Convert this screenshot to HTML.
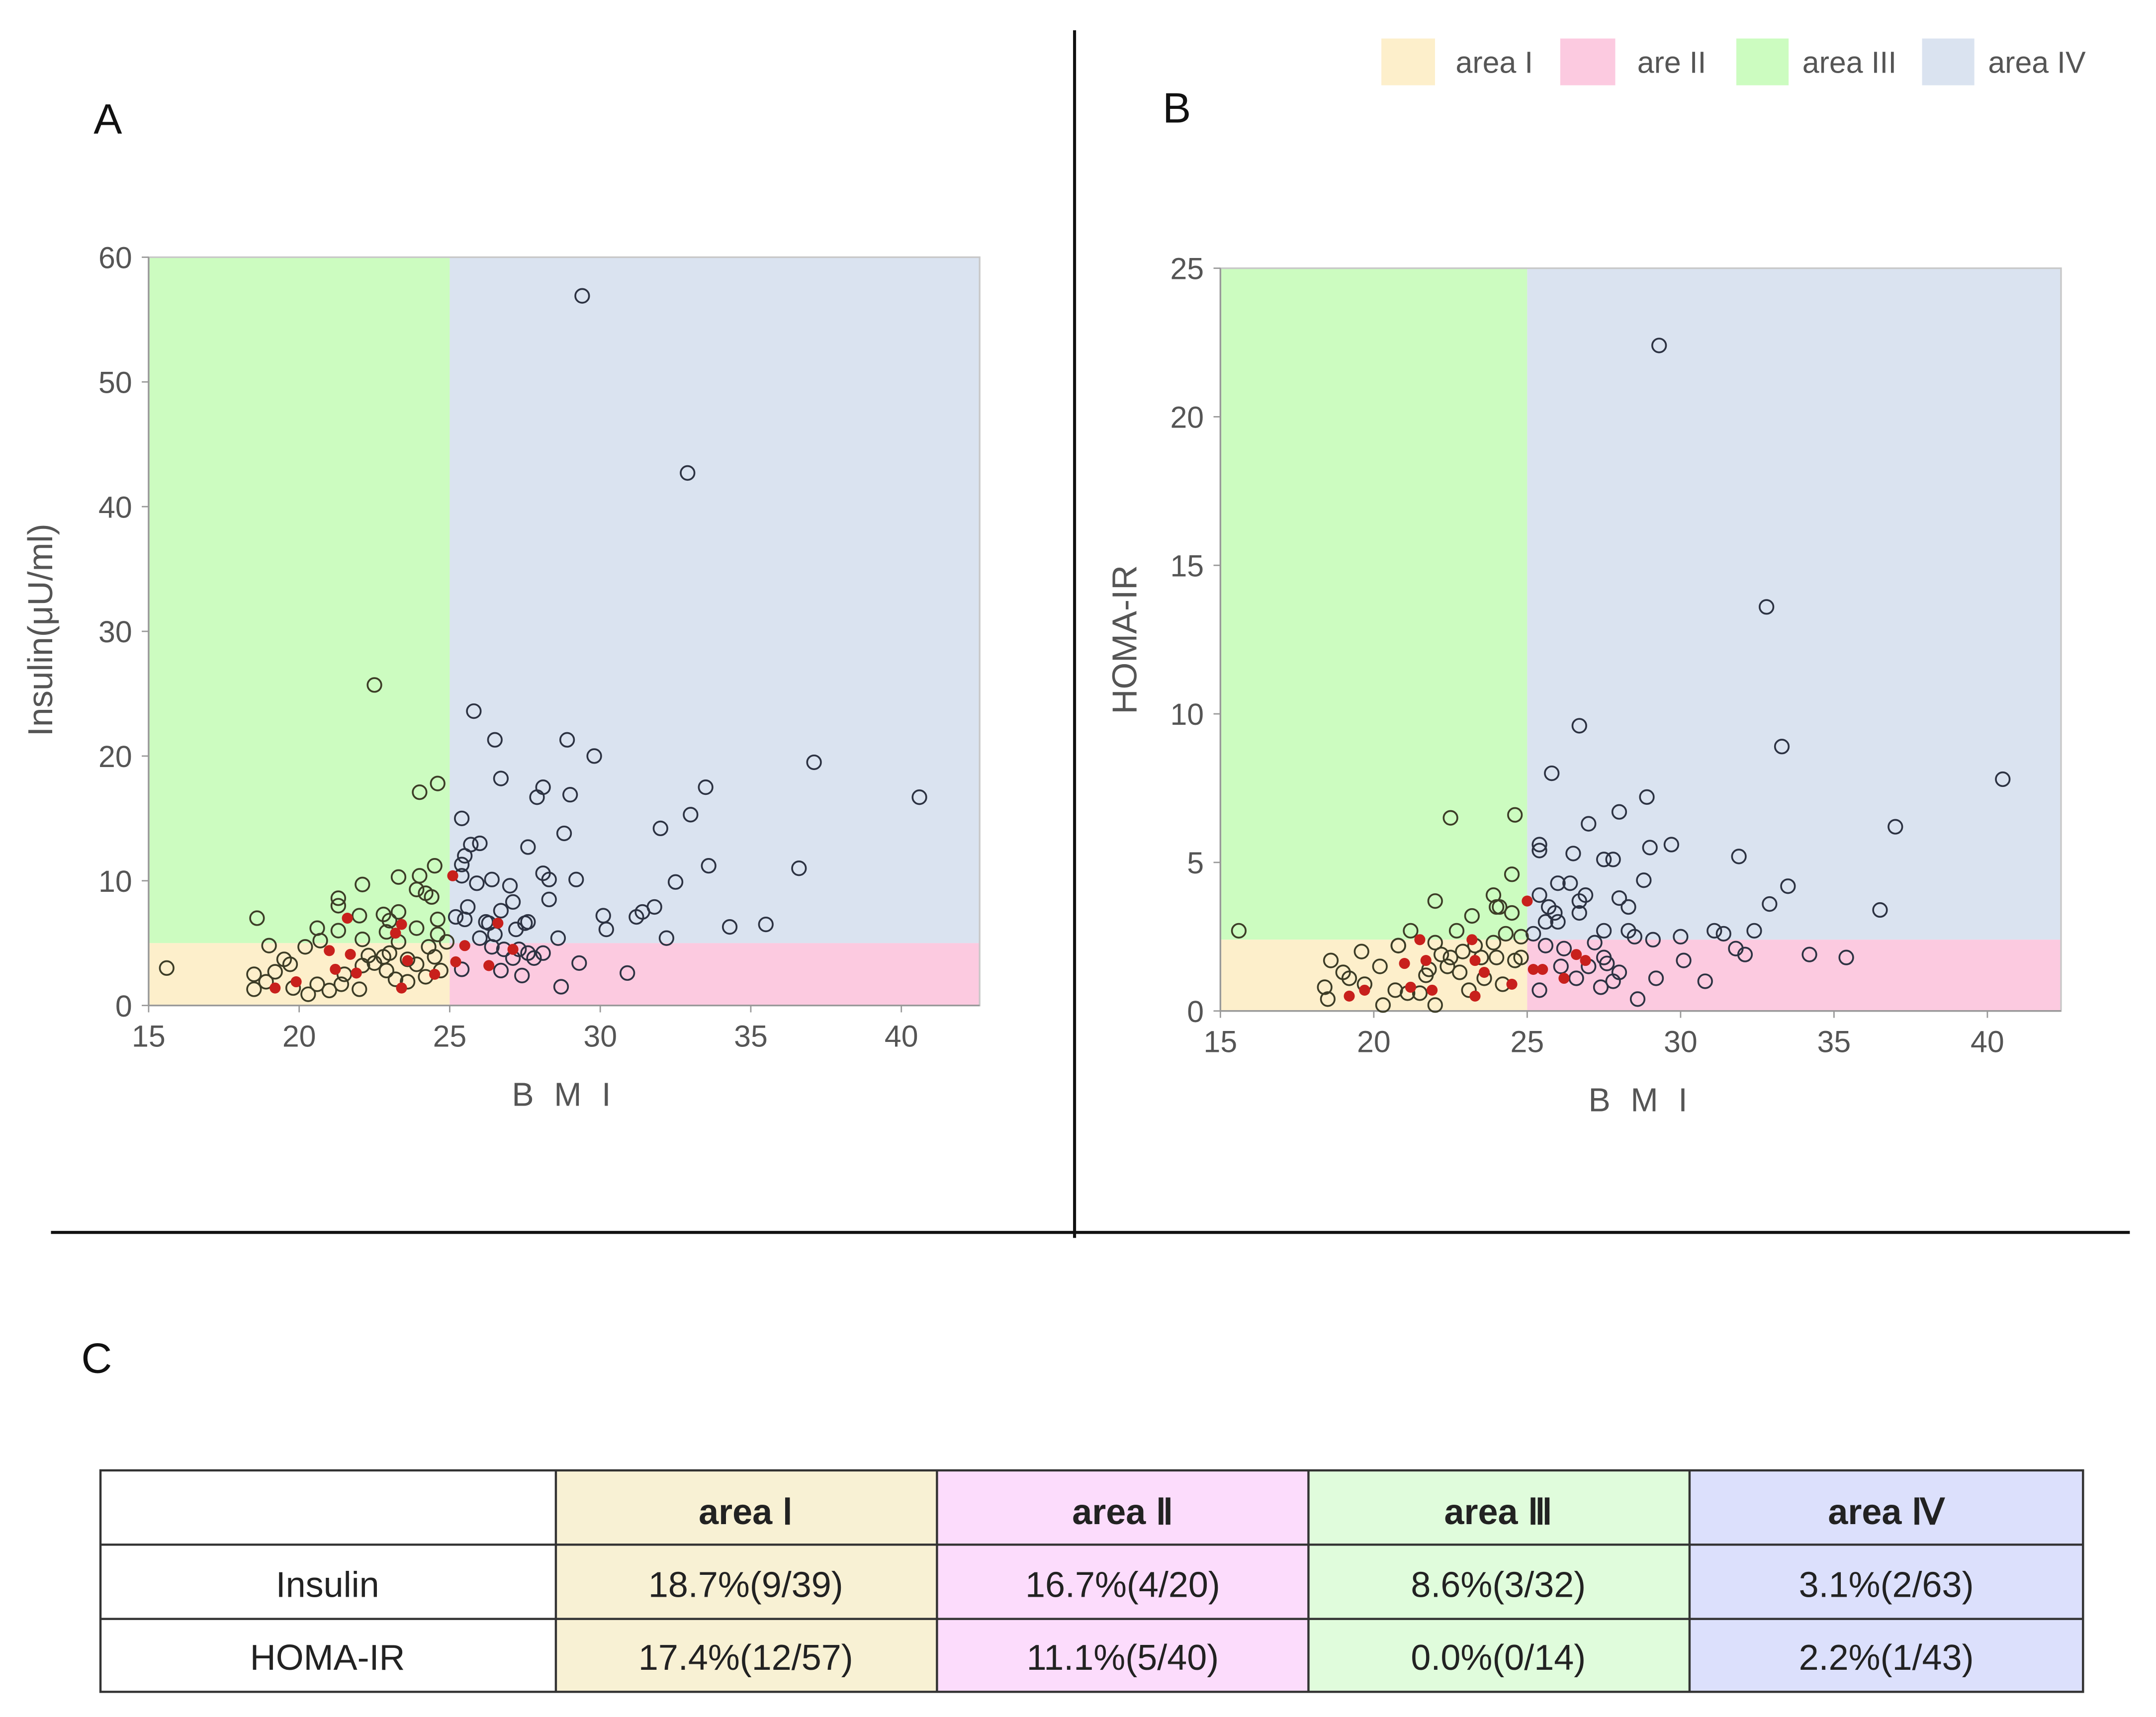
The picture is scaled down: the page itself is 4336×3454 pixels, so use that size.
<!DOCTYPE html>
<html><head><meta charset="utf-8"><style>
html,body{margin:0;padding:0;background:#fff;}
svg{display:block;font-family:"Liberation Sans",sans-serif;}
</style></head><body>
<svg id="fig" width="4336" height="3454" viewBox="0 0 1567 1248.3" xmlns="http://www.w3.org/2000/svg">
<rect x="0" y="0" width="1567" height="1249" fill="#fff"/>
<line x1="781" y1="22" x2="781" y2="900" stroke="#111" stroke-width="2.2"/>
<line x1="37" y1="896" x2="1548" y2="896" stroke="#111" stroke-width="2.2"/>
<text x="68" y="97" font-size="31" fill="#111">A</text>
<text x="845" y="89" font-size="31" fill="#111">B</text>
<text x="59" y="998" font-size="31" fill="#111">C</text>
<g font-size="22" fill="#555">
<rect x="1004" y="28" width="39" height="34" fill="#fdefcb"/>
<text x="1058" y="53">area I</text>
<rect x="1134" y="28" width="40" height="34" fill="#fccae0"/>
<text x="1190" y="53">are II</text>
<rect x="1262" y="28" width="38" height="34" fill="#ccfcc0"/>
<text x="1310" y="53">area III</text>
<rect x="1397" y="28" width="38" height="34" fill="#dae3f0"/>
<text x="1445" y="53">area IV</text>
</g>
<g id="chartA"></g>
<g id="chartB"></g>
<g font-size="26" fill="#222" text-anchor="middle">
<rect x="404" y="1069" width="277" height="161" fill="#f8f1d4"/>
<rect x="681" y="1069" width="270" height="161" fill="#fcdcfc"/>
<rect x="951" y="1069" width="277" height="161" fill="#e0fcdc"/>
<rect x="1228" y="1069" width="286" height="161" fill="#dce0fc"/>
<g stroke="#333" stroke-width="1.6" fill="none">
<rect x="73" y="1069" width="1441" height="161"/>
<line x1="73" y1="1123" x2="1514" y2="1123"/><line x1="73" y1="1177" x2="1514" y2="1177"/>
<line x1="404" y1="1069" x2="404" y2="1230"/><line x1="681" y1="1069" x2="681" y2="1230"/>
<line x1="951" y1="1069" x2="951" y2="1230"/><line x1="1228" y1="1069" x2="1228" y2="1230"/>
</g>
<g font-weight="bold">
<text x="542" y="1108">area Ⅰ</text>
<text x="816" y="1108">area Ⅱ</text>
<text x="1089" y="1108">area Ⅲ</text>
<text x="1371" y="1108">area Ⅳ</text>
</g>
<text x="238" y="1161">Insulin</text>
<text x="542" y="1161">18.7%(9/39)</text>
<text x="816" y="1161">16.7%(4/20)</text>
<text x="1089" y="1161">8.6%(3/32)</text>
<text x="1371" y="1161">3.1%(2/63)</text>
<text x="238" y="1214">HOMA-IR</text>
<text x="542" y="1214">17.4%(12/57)</text>
<text x="816" y="1214">11.1%(5/40)</text>
<text x="1089" y="1214">0.0%(0/14)</text>
<text x="1371" y="1214">2.2%(1/43)</text>
</g>
</svg>
<script>
// Panel A data: BMI vs insulin
const bmiA=[29.4,32.9,25.8,26.5,28.9,29.8,37.1,26.7,28.1,27.9,29.0,33.5,40.6,33.0,25.4,32.0,28.8,25.7,26.0,27.6,25.5,25.4,33.6,36.6,28.1,28.3,29.2,26.4,32.5,25.9,27.0,25.4,27.1,28.3,25.6,31.8,31.4,31.2,26.7,30.1,30.2,34.3,35.5,25.2,25.5,26.2,26.3,27.5,27.6,27.2,26.5,26.0,32.2,28.6,26.4,26.8,27.3,27.6,28.1,27.8,29.3,25.4,26.7,27.4,30.9,28.7,27.1,
22.5,24.0,24.6,24.5,23.3,24.0,22.1,23.9,24.2,24.4,21.3,21.3,18.6,22.0,22.8,23.3,23.0,23.9,24.6,20.6,21.3,22.1,22.9,24.6,24.9,19.0,20.2,20.7,23.3,
15.6,18.5,18.5,19.2,19.5,19.7,18.9,19.8,20.3,20.6,21.0,21.4,21.5,22.0,22.1,22.3,22.5,22.8,22.9,23.2,23.6,23.9,24.2,24.5,24.3,24.7,23.6,23.0];
const insA=[56.9,42.7,23.6,21.3,21.3,20.0,19.5,18.2,17.5,16.7,16.9,17.5,16.7,15.3,15.0,14.2,13.8,12.9,13.0,12.7,12.0,11.3,11.2,11.0,10.6,10.1,10.1,10.1,9.9,9.8,9.6,10.4,8.3,8.5,7.9,7.9,7.5,7.1,7.6,7.2,6.1,6.3,6.5,7.1,6.9,6.7,6.6,6.6,6.7,6.1,5.7,5.4,5.4,5.4,4.7,4.5,4.5,4.2,4.2,3.8,3.4,2.9,2.8,2.4,2.6,1.5,3.8,
25.7,17.1,17.8,11.2,10.3,10.4,9.7,9.3,9.0,8.7,8.6,8.0,7.0,7.2,7.3,7.5,6.8,6.2,6.9,6.2,6.0,5.3,5.9,5.7,5.1,4.8,4.7,5.2,5.1,
3.0,2.5,1.3,2.7,3.7,3.3,1.9,1.4,0.9,1.7,1.2,1.7,2.5,1.3,3.2,4.0,3.4,3.9,2.8,2.1,3.7,3.3,2.3,3.9,4.7,2.8,1.9,4.2];
const redBmiA=[25.1,25.5,25.2,26.3,27.1,26.6,21.6,23.4,23.2,19.2,19.9,21.0,21.7,21.2,21.9,23.4,23.6,24.5];
const redInsA=[10.4,4.8,3.5,3.2,4.5,6.6,7.0,6.5,5.8,1.4,1.9,4.4,4.1,2.9,2.6,1.4,3.6,2.5];
// Panel B data: BMI vs HOMA-IR
const bmiB=[29.3,32.8,26.7,33.3,40.5,25.8,28.9,28.0,27.0,37.0,25.4,25.4,29.0,29.7,26.5,27.5,27.8,31.9,28.8,26.0,26.4,33.5,25.4,26.9,26.7,28.0,28.3,32.9,36.5,25.7,25.9,26.7,26.0,25.6,27.5,28.3,31.1,31.4,32.4,30.0,28.5,29.1,25.2,
31.8,32.1,34.2,35.4,30.1,29.2,30.8,28.6,25.4,25.6,26.2,26.1,26.6,27.2,27.5,27.6,28.0,27.4,27.8,27.0,
15.6,22.5,24.6,24.5,22.0,23.9,24.0,24.1,24.5,23.2,21.2,22.7,24.3,24.8,
18.6,19.6,18.4,18.5,19.0,19.2,19.7,20.2,20.3,20.8,20.8,20.7,21.1,21.5,21.7,22.0,22.0,22.2,22.4,22.5,22.8,22.9,23.1,23.3,23.5,23.6,23.9,24.0,24.2,24.6,24.8,21.8];
const homaB=[22.4,13.6,9.6,8.9,7.8,8.0,7.2,6.7,6.3,6.2,5.6,5.4,5.5,5.6,5.3,5.1,5.1,5.2,4.4,4.3,4.3,4.2,3.9,3.9,3.7,3.8,3.5,3.6,3.4,3.5,3.3,3.3,3.0,3.0,2.7,2.7,2.7,2.6,2.7,2.5,2.5,2.4,2.6,
2.1,1.9,1.9,1.8,1.7,1.1,1.0,0.4,0.7,2.2,2.1,1.5,1.1,2.3,1.8,1.6,1.3,0.8,1.0,1.5,
2.7,6.5,6.6,4.6,3.7,3.9,3.5,3.5,3.3,3.2,2.7,2.7,2.6,2.5,
1.7,2.0,0.8,0.4,1.3,1.1,0.9,1.5,0.2,2.2,2.2,0.7,0.6,0.6,1.2,2.3,0.2,1.9,1.5,1.8,1.3,2.0,0.7,2.2,1.8,1.1,2.3,1.8,0.9,1.7,1.8,1.4];
const redBmiB=[25.0,25.2,25.5,26.2,26.6,26.9,21.5,23.2,19.2,19.7,21.0,21.7,21.2,21.9,23.3,23.3,23.6,24.5];
const redHomaB=[3.7,1.4,1.4,1.1,1.9,1.7,2.4,2.4,0.5,0.7,1.6,1.7,0.8,0.7,0.5,1.7,1.3,0.9];
const xTicks=[15,20,25,30,35,40];
const yTicksA=[0,10,20,30,40,50,60];
const yTicksB=[0,5,10,15,20,25];

const NS='http://www.w3.org/2000/svg';
function mk(tag,attrs,parent){const e=document.createElementNS(NS,tag);for(const k in attrs)e.setAttribute(k,attrs[k]);parent.appendChild(e);return e;}

function drawPanel(g,cfg){
  const sx=v=>cfg.x0+(v-15)/(cfg.xmax-15)*(cfg.x1-cfg.x0);
  const sy=v=>cfg.y0-(v/cfg.ymax)*(cfg.y0-cfg.y1);
  const xc=sx(25),yc=sy(cfg.cut);
  let r;
  r=mk('rect',{x:cfg.x0,y:cfg.y1,width:xc-cfg.x0,height:yc-cfg.y1,fill:'#ccfcc0'},g);
  
  
  r=mk('rect',{x:xc,y:cfg.y1,width:cfg.x1-xc,height:yc-cfg.y1,fill:'#dae3f0'},g);
  
  
  r=mk('rect',{x:cfg.x0,y:yc,width:xc-cfg.x0,height:cfg.y0-yc,fill:'#fdefcb'},g);
  
  
  r=mk('rect',{x:xc,y:yc,width:cfg.x1-xc,height:cfg.y0-yc,fill:'#fccae0'},g);
  
  
  mk('rect',{x:cfg.x0,y:cfg.y1,width:cfg.x1-cfg.x0,height:cfg.y0-cfg.y1,fill:'none',stroke:'#c8c8c8','stroke-width':1.2},g);
  mk('line',{x1:cfg.x0,y1:cfg.y1,x2:cfg.x0,y2:cfg.y0,stroke:'#999','stroke-width':1.2},g);
  mk('line',{x1:cfg.x0,y1:cfg.y0,x2:cfg.x1,y2:cfg.y0,stroke:'#999','stroke-width':1.2},g);
  xTicks.forEach(t=>{
    const x=sx(t);
    mk('line',{x1:x,y1:cfg.y0,x2:x,y2:cfg.y0+5,stroke:'#999'},g);
    const tx=mk('text',{x:x,y:cfg.y0+30,'font-size':22,fill:'#555','text-anchor':'middle'},g);
    tx.textContent=t;
    
    
  });
  cfg.yTicks.forEach(t=>{
    const y=sy(t);
    mk('line',{x1:cfg.x0-5,y1:y,x2:cfg.x0,y2:y,stroke:'#999'},g);
    const tx=mk('text',{x:cfg.x0-12,y:y+8,'font-size':22,fill:'#555','text-anchor':'end'},g);
    tx.textContent=t;
    
    
  });
  const xt=mk('text',{x:(cfg.x0+cfg.x1)/2,y:cfg.y0+73,'font-size':24,fill:'#555','text-anchor':'middle','letter-spacing':'4'},g);
  xt.textContent='B M I';
  
  
  const yt=mk('text',{x:0,y:0,'font-size':25,fill:'#555','text-anchor':'middle',transform:`translate(${cfg.ytx},${cfg.yty}) rotate(-90)`},g);
  yt.textContent=cfg.ytitle;
  
  
  cfg.xs.forEach((v,i)=>{
    const c=mk('circle',{cx:sx(v),cy:sy(cfg.ys[i]),r:5,fill:'none',stroke:v<25?'#3c3c26':'#2c3242','stroke-width':1.3},g);
    
    
  });
  cfg.rx.forEach((v,i)=>{
    const c=mk('circle',{cx:sx(v),cy:sy(cfg.ry[i]),r:4,fill:'#c8201c'},g);
    
    
  });
}
drawPanel(document.getElementById('chartA'),{x0:108,x1:712,xmax:42.6,y0:731,y1:187,ymax:60,cut:5,yTicks:yTicksA,xs:bmiA,ys:insA,rx:redBmiA,ry:redInsA,ytitle:'Insulin(μU/ml)',ytx:38,yty:458});
drawPanel(document.getElementById('chartB'),{x0:887,x1:1498,xmax:42.4,y0:735,y1:195,ymax:25,cut:2.4,yTicks:yTicksB,xs:bmiB,ys:homaB,rx:redBmiB,ry:redHomaB,ytitle:'HOMA-IR',ytx:826,yty:465});
</script>
</body></html>
